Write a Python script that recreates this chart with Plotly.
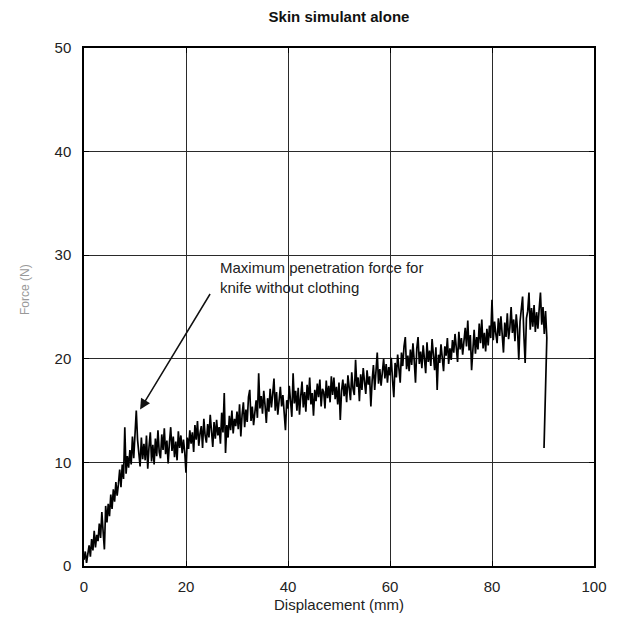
import plotly.graph_objects as go

displacement = [
    0.0, 0.25, 0.5, 0.75, 1.0, 1.25, 1.5, 1.75, 2.0, 2.25, 2.5, 2.75, 3.0, 3.25, 3.5, 3.75,
    4.0, 4.25, 4.5, 4.75, 5.0, 5.25, 5.5, 5.75, 6.0, 6.25, 6.5, 6.75, 7.0, 7.25, 7.5, 7.75,
    8.0, 8.25, 8.5, 8.75, 9.0, 9.25, 9.5, 9.75, 10.0, 10.25, 10.5, 10.75, 11.0, 11.25, 11.5, 11.75,
    12.0, 12.25, 12.5, 12.75, 13.0, 13.25, 13.5, 13.75, 14.0, 14.25, 14.5, 14.75, 15.0, 15.25, 15.5, 15.75,
    16.0, 16.25, 16.5, 16.75, 17.0, 17.25, 17.5, 17.75, 18.0, 18.25, 18.5, 18.75, 19.0, 19.25, 19.5, 19.75,
    20.0, 20.25, 20.5, 20.75, 21.0, 21.25, 21.5, 21.75, 22.0, 22.25, 22.5, 22.75, 23.0, 23.25, 23.5, 23.75,
    24.0, 24.25, 24.5, 24.75, 25.0, 25.25, 25.5, 25.75, 26.0, 26.25, 26.5, 26.75, 27.0, 27.25, 27.5, 27.75,
    28.0, 28.25, 28.5, 28.75, 29.0, 29.25, 29.5, 29.75, 30.0, 30.25, 30.5, 30.75, 31.0, 31.25, 31.5, 31.75,
    32.0, 32.25, 32.5, 32.75, 33.0, 33.25, 33.5, 33.75, 34.0, 34.25, 34.5, 34.75, 35.0, 35.25, 35.5, 35.75,
    36.0, 36.25, 36.5, 36.75, 37.0, 37.25, 37.5, 37.75, 38.0, 38.25, 38.5, 38.75, 39.0, 39.25, 39.5, 39.75,
    40.0, 40.25, 40.5, 40.75, 41.0, 41.25, 41.5, 41.75, 42.0, 42.25, 42.5, 42.75, 43.0, 43.25, 43.5, 43.75,
    44.0, 44.25, 44.5, 44.75, 45.0, 45.25, 45.5, 45.75, 46.0, 46.25, 46.5, 46.75, 47.0, 47.25, 47.5, 47.75,
    48.0, 48.25, 48.5, 48.75, 49.0, 49.25, 49.5, 49.75, 50.0, 50.25, 50.5, 50.75, 51.0, 51.25, 51.5, 51.75,
    52.0, 52.25, 52.5, 52.75, 53.0, 53.25, 53.5, 53.75, 54.0, 54.25, 54.5, 54.75, 55.0, 55.25, 55.5, 55.75,
    56.0, 56.25, 56.5, 56.75, 57.0, 57.25, 57.5, 57.75, 58.0, 58.25, 58.5, 58.75, 59.0, 59.25, 59.5, 59.75,
    60.0, 60.25, 60.5, 60.75, 61.0, 61.25, 61.5, 61.75, 62.0, 62.25, 62.5, 62.75, 63.0, 63.25, 63.5, 63.75,
    64.0, 64.25, 64.5, 64.75, 65.0, 65.25, 65.5, 65.75, 66.0, 66.25, 66.5, 66.75, 67.0, 67.25, 67.5, 67.75,
    68.0, 68.25, 68.5, 68.75, 69.0, 69.25, 69.5, 69.75, 70.0, 70.25, 70.5, 70.75, 71.0, 71.25, 71.5, 71.75,
    72.0, 72.25, 72.5, 72.75, 73.0, 73.25, 73.5, 73.75, 74.0, 74.25, 74.5, 74.75, 75.0, 75.25, 75.5, 75.75,
    76.0, 76.25, 76.5, 76.75, 77.0, 77.25, 77.5, 77.75, 78.0, 78.25, 78.5, 78.75, 79.0, 79.25, 79.5, 79.75,
    80.0, 80.25, 80.5, 80.75, 81.0, 81.25, 81.5, 81.75, 82.0, 82.25, 82.5, 82.75, 83.0, 83.25, 83.5, 83.75,
    84.0, 84.25, 84.5, 84.75, 85.0, 85.25, 85.5, 85.75, 86.0, 86.25, 86.5, 86.75, 87.0, 87.25, 87.5, 87.75,
    88.0, 88.25, 88.5, 88.75, 89.0, 89.25, 89.5, 89.75, 90.0, 90.25, 90.5, 90.75, 90.2,
]

force = [
    0.6, 1.4, 0.3, 1.2, 2.0, 0.9, 2.6, 1.5, 3.4, 1.8, 3.0, 2.4, 4.1, 2.7, 5.2, 3.3,
    1.6, 5.8, 4.2, 6.0, 4.8, 6.9, 5.5, 7.4, 6.2, 8.1, 6.8, 7.9, 9.3, 7.6, 9.8, 8.4,
    13.4, 8.9, 10.6, 9.5, 11.2, 9.8, 12.5, 10.4, 13.0, 15.0, 12.2, 11.0, 9.6, 12.4, 10.3, 11.8,
    10.2, 12.6, 9.4, 11.5, 12.9, 10.1, 11.7, 9.8, 12.3, 10.6, 13.1, 11.0, 10.4, 12.7, 11.2, 13.3,
    10.8, 12.1, 9.9, 11.9, 13.4, 11.1, 12.5, 10.5, 12.0, 10.2, 13.0, 11.4, 12.6, 10.9, 12.2, 11.0,
    9.0, 12.4, 11.3, 13.1, 11.8, 12.9, 11.0, 13.6, 12.2, 14.0, 11.6, 12.8, 13.5, 11.4, 14.2, 12.6,
    11.9, 13.7, 12.4, 14.6, 12.8, 11.5, 13.9, 12.3, 14.1, 12.6, 13.4, 11.8, 14.8, 12.9, 16.7, 10.9,
    13.6, 12.4, 14.5, 13.1, 15.0, 12.8, 14.2, 13.5, 14.9, 13.2, 15.6, 12.5, 14.6, 15.8, 13.4, 15.1,
    13.9, 16.3, 17.0, 14.0, 15.4, 13.6, 14.8, 16.0, 14.3, 18.6, 15.2, 16.4, 14.7, 16.9, 15.5, 13.8,
    16.2, 14.9, 17.1, 15.3, 16.6, 18.1, 15.0, 16.8, 14.6, 16.1, 17.3, 15.4, 16.5, 14.8, 13.1, 16.0,
    15.2, 17.4, 16.1, 14.4, 18.6, 15.7, 16.9, 15.0, 17.2, 14.6, 16.4, 17.8, 15.3, 16.8, 14.9, 17.5,
    16.0, 18.2, 15.6, 16.7, 14.5, 17.0, 15.9, 17.6, 16.3, 18.0, 15.4, 17.1, 16.8, 15.2, 17.9, 16.2,
    17.4, 15.8, 18.3, 16.5, 18.2, 16.1, 17.3, 15.6, 17.7, 14.1, 16.9, 18.0, 16.4, 17.6, 15.8, 18.4,
    17.2, 16.0, 18.7, 17.1, 16.5, 19.9, 17.3, 18.2, 15.9, 18.5, 17.0, 19.1, 17.8, 16.6, 18.9, 17.5,
    18.3, 15.4, 17.9, 19.4, 17.0, 18.6, 20.6, 17.6, 19.0, 17.4, 18.8, 20.0, 18.1, 19.5, 17.7, 19.2,
    18.4, 20.1, 17.9, 16.3, 19.6, 18.2, 20.4, 19.0, 17.7, 20.6, 19.3, 21.2, 22.1, 19.0, 20.3, 18.8,
    20.9, 19.4, 21.5, 19.8, 17.7, 21.0, 22.1, 19.5, 20.7, 19.1, 21.3, 20.0, 18.6, 21.6, 19.7, 20.8,
    19.3, 21.9, 20.2, 18.9, 21.1, 17.0, 20.4, 19.6, 21.4, 20.0, 18.8, 21.2, 20.3, 22.0, 19.5, 21.0,
    19.9, 21.8, 20.6, 22.4, 21.1, 19.7, 22.6, 20.9, 22.0, 20.4, 21.7, 23.0, 21.2, 23.7, 20.8, 22.3,
    18.9, 21.6, 22.8, 20.5, 22.1, 20.9, 23.4, 21.5, 23.8, 21.0, 22.5, 20.7, 22.9, 21.3, 23.2, 22.0,
    25.7, 21.8, 23.6, 22.4, 21.5, 23.9, 22.2, 24.1, 22.7, 20.6, 23.5, 22.1, 24.4, 21.9, 23.0, 25.0,
    22.5, 23.8, 21.7, 24.3, 22.9, 19.9, 23.6, 24.7, 26.0, 22.3, 19.6, 23.9, 24.6, 26.4, 22.8, 24.9,
    23.1, 25.2, 22.6, 24.5, 22.9, 24.8, 26.4, 23.3, 25.0, 22.4, 24.6, 22.0, 11.4,
]

x_ticks = [0, 20, 40, 60, 80, 100]
y_ticks = [0, 10, 20, 30, 40, 50]

title_text = "Skin simulant alone"
x_title = "Displacement (mm)"
y_title = "Force (N)"
note_text = "Maximum penetration force for<br>knife without clothing"
arrow_head = (11.0, 15.1)
arrow_tail = (24.9, 26.4)
note_pos = (26.3, 27.8)

FONT = "Liberation Sans, Arial, sans-serif"
W, H = 611, 616

fig = go.Figure()
fig.add_trace(go.Scatter(
    x=displacement, y=force, mode="lines",
    line=dict(color="black", width=1.7),
    showlegend=False, hoverinfo="skip",
))

axis_common = dict(
    showline=True, linecolor="black", linewidth=1.5, mirror="ticks",
    showgrid=True, gridcolor="#2a2a2a", gridwidth=1,
    ticks="inside", ticklen=5, tickcolor="black",
    zeroline=False,
    tickfont=dict(family=FONT, size=15, color="#222"),
)

fig.update_xaxes(range=[0, 100], tickvals=x_ticks, ticklabelstandoff=6,
                 title=dict(text=x_title, font=dict(family=FONT, size=15, color="#222"), standoff=6),
                 **axis_common)
fig.update_yaxes(range=[0, 50], tickvals=y_ticks, ticklabelstandoff=8, **axis_common)

fig.add_annotation(
    x=arrow_head[0], y=arrow_head[1], ax=arrow_tail[0], ay=arrow_tail[1],
    xref="x", yref="y", axref="x", ayref="y",
    text="", showarrow=True, arrowhead=2, arrowsize=1.4, arrowwidth=1.5, arrowcolor="#111",
)
fig.add_annotation(
    x=note_pos[0], y=note_pos[1], xref="x", yref="y",
    text=note_text, showarrow=False, xanchor="left", yanchor="middle", align="left",
    font=dict(family=FONT, size=15, color="#222"),
)
fig.add_annotation(
    x=0, y=0.5, xref="paper", yref="paper", xshift=-68, yshift=17,
    text=y_title, textangle=-90, showarrow=False,
    font=dict(family=FONT, size=12, color="#999"),
)

fig.update_layout(
    width=W, height=H,
    margin=dict(l=76, r=18, t=40, b=58),
    paper_bgcolor="white", plot_bgcolor="white",
    title=dict(text="<b>" + title_text + "</b>", x=0.5, xref="paper", y=1 - 9 / H,
               yref="container", yanchor="middle",
               font=dict(family=FONT, size=15, color="#111")),
)

fig.write_html("out.html")
